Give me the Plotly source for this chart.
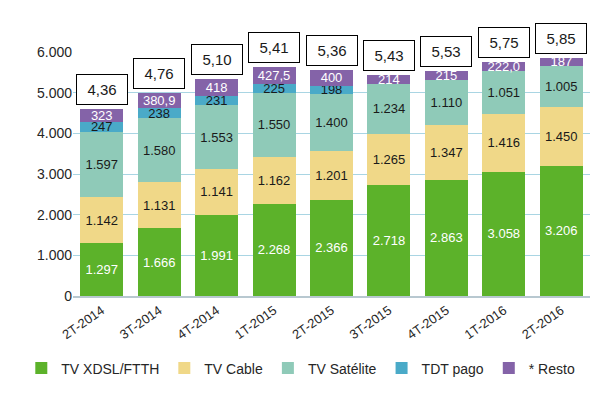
import plotly.graph_objects as go

categories = ["2T-2014", "3T-2014", "4T-2014", "1T-2015", "2T-2015", "3T-2015", "4T-2015", "1T-2016", "2T-2016"]
xdsl = [1297, 1666, 1991, 2268, 2366, 2718, 2863, 3058, 3206]
cable = [1142, 1131, 1141, 1162, 1201, 1265, 1347, 1416, 1450]
satelite = [1597, 1580, 1553, 1550, 1400, 1234, 1110, 1051, 1005]
tdt = [247, 238, 231, 225, 198, None, None, None, None]
resto = [323, 380.9, 418, 427.5, 400, 214, 215, 222.0, 187]
resto_labels = ["323", "380,9", "418", "427,5", "400", "214", "215", "222,0", "187"]
totals_labels = ["4,36", "4,76", "5,10", "5,41", "5,36", "5,43", "5,53", "5,75", "5,85"]

FONT = "Liberation Sans"

def fmt(v):
    if v is None:
        return ""
    return f"{int(round(v)):,}".replace(",", ".")

series = [
    ("TV XDSL/FTTH", xdsl, [fmt(v) for v in xdsl], "#5cb22a", "white"),
    ("TV Cable", cable, [fmt(v) for v in cable], "#f0d888", "#1a1a1a"),
    ("TV Satélite", satelite, [fmt(v) for v in satelite], "#8fcab8", "#1a1a1a"),
    ("TDT pago", tdt, [fmt(v) for v in tdt], "#4aaac8", "#1a1a1a"),
    ("* Resto", resto, resto_labels, "#8463a8", "white"),
]

fig = go.Figure()
for name, vals, labels, color, tcolor in series:
    fig.add_trace(go.Bar(
        x=categories, y=vals, name=name, text=labels,
        textposition="inside", insidetextanchor="middle", textangle=0,
        constraintext="none",
        textfont=dict(color=tcolor, size=13, family=FONT),
        marker=dict(color=color, line=dict(width=0)),
        cliponaxis=False,
    ))

stack_tops = [sum(v or 0 for v in col) for col in zip(xdsl, cable, satelite, tdt, resto)]
for cat, top, lab in zip(categories, stack_tops, totals_labels):
    fig.add_annotation(
        x=cat, y=top, text=lab, showarrow=False, yanchor="bottom",
        yshift=4, bgcolor="white", bordercolor="black", borderwidth=1,
        borderpad=6, width=38, font=dict(size=15, family=FONT, color="#1a1a1a"),
    )

fig.update_layout(
    width=605, height=399,
    barmode="stack", bargap=0.25,
    plot_bgcolor="white", paper_bgcolor="white",
    margin=dict(l=65, r=23, t=44, b=111, autoexpand=False),
    font=dict(family=FONT, color="#404040"),
    showlegend=True,
    legend=dict(orientation="h", x=-0.1, xanchor="left",
                y=-0.297, yanchor="middle",
                font=dict(size=14, family=FONT, color="#262626"),
                traceorder="normal", itemwidth=30, entrywidth=0),
)
fig.update_yaxes(range=[0, 6000], tickvals=[0, 1000, 2000, 3000, 4000, 5000, 6000],
                 ticktext=["0", "1.000", "2.000", "3.000", "4.000", "5.000", "6.000"],
                 showgrid=True, gridcolor="#a9d5e3", gridwidth=1, zeroline=False,
                 tickfont=dict(size=14, family=FONT, color="#262626"), ticks="", ticklen=0)
fig.update_xaxes(tickangle=-35, tickfont=dict(size=13, family=FONT, color="#262626"),
                 showline=True, linecolor="#b8c8d0", linewidth=2, ticks="")

fig.write_html("out.html")
